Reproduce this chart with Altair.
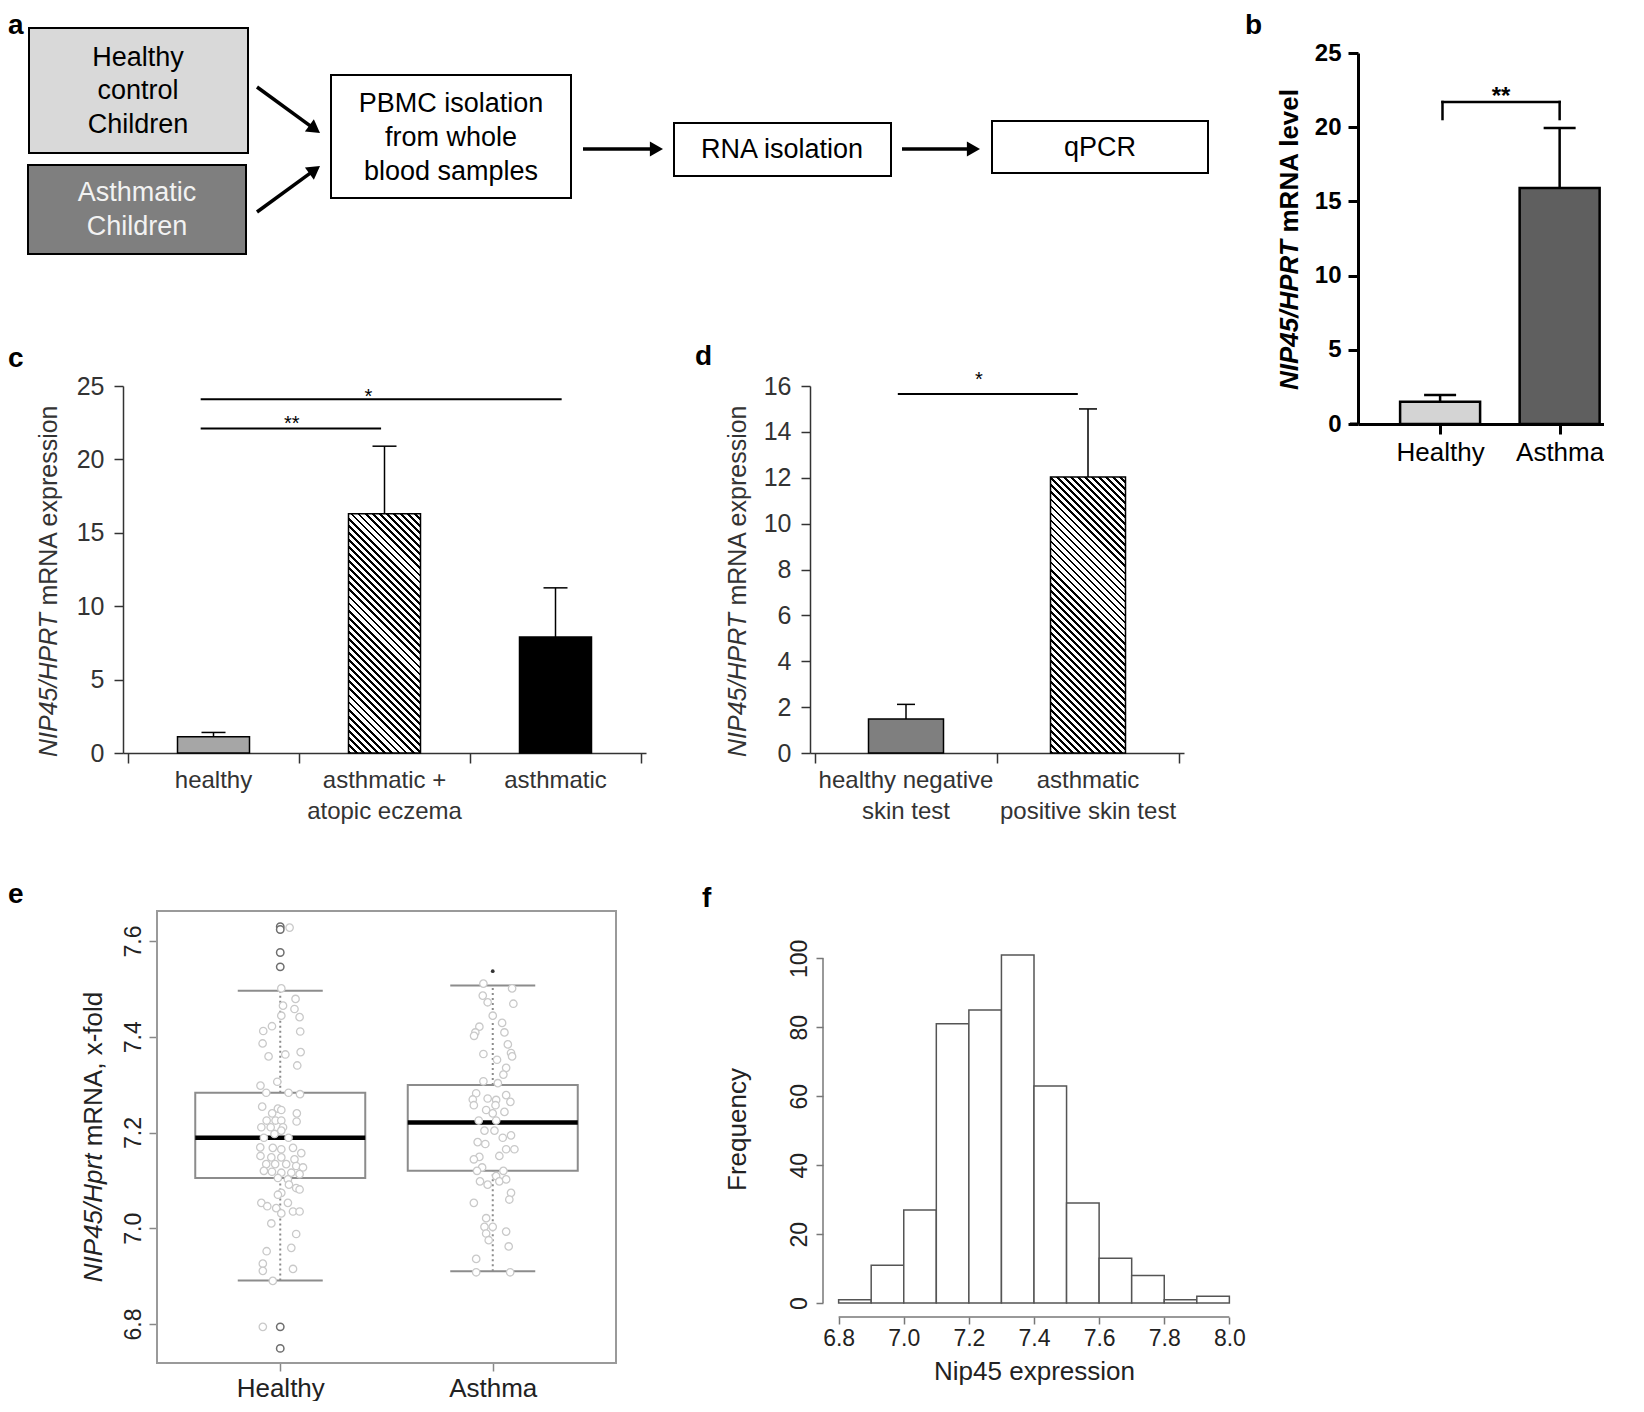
import math
import altair as alt
import pandas as pd

FONT = "Liberation Sans"

# ===================== DATA =====================
# (a) flow diagram, positions in figure units
a_box_x0 = [29, 28, 331, 674, 992]
a_box_x1 = [248, 246, 571, 891, 1208]
a_box_y0 = [28, 165, 75, 123, 121]
a_box_y1 = [153, 254, 198, 176, 173]
a_box_fill = ["#d9d9d9", "#7f7f7f", "#ffffff", "#ffffff", "#ffffff"]
a_lines = ["Healthy", "control", "Children", "Asthmatic", "Children",
           "PBMC isolation", "from whole", "blood samples", "RNA isolation", "qPCR"]
a_line_x = [138, 138, 138, 137, 137, 451, 451, 451, 782, 1100]
a_line_y = [58, 91, 125, 193, 227, 104, 138, 172, 150, 148]
a_line_color = ["#000000"] * 3 + ["#f2f2f2"] * 2 + ["#000000"] * 5
a_arrow_x0 = [257, 257, 583, 902]
a_arrow_y0 = [87, 212, 149, 149]
a_arrow_x1 = [320, 320, 663, 980]
a_arrow_y1 = [133, 166, 149, 149]

# (b)
b_groups = ["Healthy", "Asthma"]
b_mean = [1.5, 15.9]
b_upper = [1.95, 19.95]
b_fill = ["#d4d4d4", "#5f5f5f"]
b_sig_x = [1.02, 2.0]
b_sig_y = 21.7
b_sig_leg = 20.55
b_sig_text = "**"

# (c)
c_groups = ["healthy", "asthmatic +\natopic eczema", "asthmatic"]
c_mean = [1.1, 16.3, 7.9]
c_upper = [1.4, 20.9, 11.25]
c_fill = ["#a6a6a6", "hatch", "#000000"]
c_sig_x0 = [0.925, 0.925]
c_sig_x1 = [3.036, 1.98]
c_sig_y = [24.1, 22.1]
c_sig_tx = [1.906, 1.458]
c_sig_text = ["*", "**"]

# (d)
d_groups = ["healthy negative\nskin test", "asthmatic\npositive skin test"]
d_mean = [1.48, 12.03]
d_upper = [2.12, 15.0]
d_fill = ["#7f7f7f", "hatch"]
d_sig_x0 = [0.955]
d_sig_x1 = [1.944]
d_sig_y = [15.65]
d_sig_tx = [1.40]
d_sig_text = ["*"]

# (e) boxplot statistics and jittered observations
e_groups = ["Healthy", "Asthma"]
e_low_whisker = [6.891, 6.910]
e_q1 = [7.105, 7.120]
e_median = [7.189, 7.221]
e_q3 = [7.283, 7.299]
e_up_whisker = [7.496, 7.507]
e_out_group = [1, 1, 1, 1, 1, 1]
e_out_value = [7.630, 7.624, 7.576, 7.546, 6.794, 6.749]
e_out2_group = [2]
e_out2_value = [7.537]
e_h_jit = [0.005, 0.072, 0.013, 0.067, 0.005, 0.091, -0.039, -0.080, 0.094, -0.083,
           -0.055, 0.024, 0.096, 0.080, -0.014, -0.093, -0.066, 0.039, 0.093, -0.085,
           -0.011, 0.005, -0.038, 0.078, -0.064, -0.022, 0.005, 0.077, -0.089, -0.045,
           0.013, -0.027, -0.077, 0.039, 0.005, -0.094, -0.035, 0.060, 0.005, 0.099,
           -0.093, -0.042, 0.005, 0.067, -0.066, -0.024, 0.028, 0.075, 0.107, -0.077,
           -0.039, 0.005, 0.052, 0.091, -0.011, 0.036, 0.041, 0.075, 0.005, -0.011,
           0.091, -0.089, -0.061, 0.036, -0.019, 0.005, 0.060, 0.091, -0.042, 0.075,
           0.052, -0.064, -0.082, -0.082, 0.060, -0.035, 0.044, -0.082]
e_h_val = [7.501, 7.479, 7.465, 7.458, 7.444, 7.441, 7.422, 7.412, 7.411, 7.386,
           7.359, 7.363, 7.368, 7.340, 7.306, 7.298, 7.283, 7.283, 7.280, 7.254,
           7.250, 7.247, 7.240, 7.240, 7.225, 7.225, 7.225, 7.223, 7.211, 7.211,
           7.211, 7.197, 7.189, 7.189, 7.204, 7.169, 7.168, 7.168, 7.165, 7.157,
           7.151, 7.148, 7.148, 7.144, 7.134, 7.134, 7.134, 7.130, 7.127, 7.120,
           7.118, 7.116, 7.116, 7.113, 7.105, 7.102, 7.091, 7.084, 7.074, 7.070,
           7.081, 7.053, 7.046, 7.053, 7.042, 7.031, 7.035, 7.035, 7.010, 6.988,
           6.959, 6.952, 6.926, 6.911, 6.915, 6.890, 7.628, 6.794]
e_a_jit = [-0.044, 0.091, -0.047, -0.024, 0.097, 0.000, 0.044, -0.063, -0.082, 0.055,
           -0.088, 0.071, 0.086, -0.044, 0.020, 0.091, 0.063, 0.050, -0.044, 0.024,
           -0.078, 0.063, -0.094, -0.024, 0.016, 0.083, -0.089, 0.013, -0.031, 0.000,
           0.055, -0.066, 0.016, -0.039, 0.008, 0.086, 0.047, -0.071, -0.035, 0.063,
           0.102, 0.031, -0.063, -0.089, -0.050, -0.074, 0.050, 0.016, -0.060, -0.024,
           0.031, 0.063, 0.086, 0.078, -0.089, -0.031, -0.039, 0.000, -0.031, 0.063,
           -0.019, 0.075, -0.078, -0.078, 0.082]
e_a_val = [7.511, 7.501, 7.486, 7.472, 7.469, 7.444, 7.429, 7.421, 7.409, 7.409,
           7.402, 7.384, 7.366, 7.364, 7.352, 7.359, 7.335, 7.321, 7.307, 7.303,
           7.282, 7.278, 7.269, 7.271, 7.268, 7.264, 7.257, 7.257, 7.247, 7.240,
           7.243, 7.225, 7.225, 7.204, 7.204, 7.194, 7.189, 7.180, 7.176, 7.165,
           7.165, 7.151, 7.149, 7.144, 7.127, 7.120, 7.120, 7.109, 7.098, 7.091,
           7.098, 7.102, 7.074, 7.060, 7.053, 7.021, 7.003, 7.003, 6.989, 6.993,
           6.975, 6.962, 6.936, 6.908, 6.908]
e_yticks = [6.8, 7.0, 7.2, 7.4, 7.6]
e_ylim = [6.7185, 7.6627]

# (f) histogram
f_bin_start = [6.8, 6.9, 7.0, 7.1, 7.2, 7.3, 7.4, 7.5, 7.6, 7.7, 7.8, 7.9]
f_counts = [1, 11, 27, 81, 85, 101, 63, 29, 13, 8, 1, 2]
f_bin_width = 0.1
f_xticks = [6.8, 7.0, 7.2, 7.4, 7.6, 7.8, 8.0]
f_yticks = [0, 20, 40, 60, 80, 100]

# ===================== HELPERS =====================
ONE = pd.DataFrame({"k": [0]})

REG = {' ': 278, ',': 278, '-': 333, '/': 278, '4': 556, '5': 556, 'A': 667, 'H': 722,
       'I': 278, 'N': 722, 'P': 667, 'R': 722, 'T': 611, 'a': 556, 'd': 556, 'e': 556,
       'f': 278, 'i': 222, 'l': 222, 'm': 833, 'n': 556, 'o': 556, 'p': 556, 'r': 333,
       's': 500, 't': 278, 'v': 500, 'x': 500}
BOLD = dict(REG)
BOLD.update({'A': 722, 'i': 278, 'l': 278, 'm': 889, 'p': 611, 'r': 389, 's': 556,
             't': 333, 'v': 556, 'x': 556, 'd': 611, 'f': 333, 'n': 611, 'o': 611})


def text_w(s, size, bold=False):
    t = BOLD if bold else REG
    return sum(t.get(ch, 556) for ch in s) * size / 1000.0


class Frame:
    """Plot rectangle of a panel, placed absolutely (layout px) inside a 1x1 cell."""

    def __init__(self, idx, left, top, W, H):
        self.dx, self.dy, self.W, self.H = left - idx, top, W, H

    def xr(self):
        return [self.dx, self.dx + self.W]

    def yr(self):
        return [self.dy + self.H, self.dy]

    def px(self, x):
        return alt.value(self.dx + x)

    def py(self, y):
        return alt.value(self.dy + y)

    def xoff(self):
        return self.dy + self.H - 1

    def yoff(self):
        return -self.dx


def rot_title(fr, parts, x, y_bottom, size, bold=False, color="#222222"):
    layers = []
    off = 0.0
    for i, (txt, italic) in enumerate(parts):
        if i > 0:
            off += text_w(" ", size, bold)
        layers.append(
            alt.Chart(ONE).mark_text(
                text=txt, angle=270, align="left", baseline="middle", fontSize=size,
                fontStyle="italic" if italic else "normal",
                fontWeight="bold" if bold else "normal", color=color,
            ).encode(x=fr.px(x), y=fr.py(y_bottom - off))
        )
        off += text_w(txt, size, bold)
    return layers


def letter(fr, ch, x, y):
    return alt.Chart(ONE).mark_text(
        text=ch, fontSize=28, fontWeight="bold", align="left",
        baseline="alphabetic", color="#000000",
    ).encode(x=fr.px(x), y=fr.py(y))


def hatch(W, H, period=5.0, ink=0.4):
    # diagonal stripes through a linear gradient in bounding-box units
    k = (W + H) / (W * W + H * H)
    n = max(1, round((W + H) / math.sqrt(2) / period))
    stops = []
    for i in range(n):
        a, b, c = i / n, (i + ink) / n, (i + 1) / n
        stops += [alt.GradientStop(offset=a, color="#000000"),
                  alt.GradientStop(offset=b, color="#000000"),
                  alt.GradientStop(offset=b, color="#ffffff"),
                  alt.GradientStop(offset=c, color="#ffffff")]
    return alt.LinearGradient(gradient="linear", stops=stops,
                              x1=0, y1=1, x2=W * k, y2=1 - H * k)


def cat_expr(names):
    return "[" + ",".join("'" + n + "'" for n in names) + "][datum.value - 1]"


# layout (page px minus the 8px margin): cell index, plot left, top, width, height
FA = Frame(0, 0, 0, 1210, 282)
FB = Frame(1, 1350, 45, 278, 371)
FC = Frame(2, 115, 378, 523, 367)
FD = Frame(3, 802, 378, 374, 367)
FE = Frame(4, 149, 903, 459, 452)
FF = Frame(5, 815, 933, 422, 376)

# ===================== PANEL a =====================
ax_s = alt.Scale(domain=[8, 8 + FA.W], range=[FA.dx, FA.dx + FA.W], nice=False, zero=False)
ay_s = alt.Scale(domain=[8, 8 + FA.H], range=[FA.dy, FA.dy + FA.H], nice=False, zero=False)


def AX(f):
    return alt.X(f, type="quantitative", scale=ax_s, axis=None)


def AY(f):
    return alt.Y(f, type="quantitative", scale=ay_s, axis=None)


box_df = pd.DataFrame({"x0": a_box_x0, "x1": a_box_x1, "y0": a_box_y0,
                       "y1": a_box_y1, "fill": a_box_fill})
a_rect = alt.Chart(box_df).mark_rect(stroke="#000000", strokeWidth=2).encode(
    x=AX("x0"), x2="x1", y=AY("y0"), y2="y1", fill=alt.Fill("fill:N", scale=None))
txt_df = pd.DataFrame({"t": a_lines, "x": a_line_x, "y": a_line_y, "c": a_line_color})
a_txt = alt.Chart(txt_df).mark_text(fontSize=27, align="center", baseline="middle").encode(
    x=AX("x"), y=AY("y"), text="t:N", color=alt.Color("c:N", scale=None))
HEAD_SIZE = 230
head_h = math.sqrt(HEAD_SIZE) / 2 * math.sqrt(3) / 2
rows = []
for x0, y0, x1, y1 in zip(a_arrow_x0, a_arrow_y0, a_arrow_x1, a_arrow_y1):
    dx, dy = x1 - x0, y1 - y0
    L = math.hypot(dx, dy)
    rows.append({"x0": x0, "y0": y0, "hx": x1 - dx / L * head_h, "hy": y1 - dy / L * head_h,
                 "ang": math.degrees(math.atan2(dx, -dy)) % 360})
arr_df = pd.DataFrame(rows)
a_shaft = alt.Chart(arr_df).mark_rule(color="#000000", strokeWidth=3.5).encode(
    x=AX("x0"), y=AY("y0"), x2="hx", y2="hy")
a_head = alt.Chart(arr_df).mark_point(shape="triangle-up", filled=True, size=HEAD_SIZE,
                                      color="#000000", opacity=1).encode(
    x=AX("hx"), y=AY("hy"), angle=alt.Angle("ang:Q", scale=None))
a_chart = alt.layer(a_rect, a_txt, a_shaft, a_head, letter(FA, "a", 0, 26)).properties(
    width=1, height=1)

# ===================== PANEL b =====================
bxs = alt.Scale(domain=[0.355, 2.597], range=FB.xr(), nice=False, zero=False)
bys = alt.Scale(domain=[0, 25], range=FB.yr(), nice=False)
b_xaxis = alt.Axis(values=[1, 2], labelExpr=cat_expr(b_groups), title=None, tickSize=10,
                   tickWidth=3, tickColor="#000000", domainWidth=3, domainColor="#000000",
                   labelFontSize=26, labelColor="#000000", labelPadding=5, grid=False,
                   labelFlush=False, labelOverlap=False, offset=FB.xoff())
b_yaxis = alt.Axis(values=[0, 5, 10, 15, 20, 25], title=None, tickSize=10, tickWidth=3,
                   tickColor="#000000", domainWidth=3, domainColor="#000000",
                   labelFontSize=24, labelFontWeight="bold", labelColor="#000000",
                   labelPadding=7, grid=False, offset=FB.yoff())


def BX(f):
    return alt.X(f, type="quantitative", scale=bxs, axis=b_xaxis)


def BY(f):
    return alt.Y(f, type="quantitative", scale=bys, axis=b_yaxis, stack=None)


b_df = pd.DataFrame({"pos": [1, 2], "mean": b_mean, "upper": b_upper, "fill": b_fill})
b_bars = alt.Chart(b_df).mark_bar(orient="vertical", size=80, stroke="#000000",
                                  strokeWidth=2.5).encode(
    x=BX("pos"), y=BY("mean"), fill=alt.Fill("fill:N", scale=None))
b_err = alt.Chart(b_df).mark_rule(color="#000000", strokeWidth=2.5).encode(
    x=BX("pos"), y=BY("mean"), y2="upper")
b_cap = alt.Chart(b_df).mark_tick(orient="horizontal", size=32, thickness=2.5,
                                  color="#000000", opacity=1).encode(x=BX("pos"), y=BY("upper"))
b_br_df = pd.DataFrame({"x": b_sig_x, "lo": [b_sig_leg] * 2, "hi": [b_sig_y] * 2})
b_br_h = alt.Chart(pd.DataFrame({"x0": [b_sig_x[0]], "x1": [b_sig_x[1]], "y": [b_sig_y],
                                 "xm": [sum(b_sig_x) / 2], "t": [b_sig_text]}))
b_line = b_br_h.mark_rule(color="#000000", strokeWidth=2.5, strokeCap="square").encode(
    x=BX("x0"), x2="x1", y=BY("y"))
b_legs = alt.Chart(b_br_df).mark_rule(color="#000000", strokeWidth=2.5,
                                      strokeCap="square").encode(
    x=BX("x"), y=BY("lo"), y2="hi")
b_star = b_br_h.mark_text(fontSize=24, fontWeight="bold", baseline="alphabetic", dy=2,
                          color="#000000").encode(x=BX("xm"), y=BY("y"), text="t:N")
b_axis_ext = alt.Chart(ONE).mark_rule(color="#000000", strokeWidth=3).encode(
    x=FB.px(-8), x2=FB.px(0), y=FB.py(FB.H))
b_title = rot_title(FB, [("NIP45/HPRT", True), ("mRNA level", False)], -68, 337, 26,
                    bold=True, color="#000000")
b_chart = alt.layer(b_bars, b_err, b_cap, b_line, b_legs, b_star, b_axis_ext, *b_title,
                    letter(FB, "b", -113, -19)).properties(width=1, height=1)


# ===================== PANELS c / d =====================
def bar_panel(fr, groups, mean, upper, fills, ymax, yticks, sig_x0, sig_x1, sig_y,
              sig_tx, sig_text, sig_dy, bar_size, cap_size, let, let_xy):
    n = len(groups)
    xs = alt.Scale(domain=[0.5, n + 0.5], range=fr.xr(), nice=False, zero=False)
    ys = alt.Scale(domain=[0, ymax], range=fr.yr(), nice=False)
    xaxis = alt.Axis(values=[i + 0.5 for i in range(n + 1)], labels=False, tickSize=10,
                     tickWidth=1.5, tickColor="#333333", domainColor="#333333",
                     domainWidth=1.5, title=None, grid=False, offset=fr.xoff())
    yaxis = alt.Axis(values=yticks, title=None, tickSize=9, tickWidth=1.5,
                     tickColor="#333333", domainColor="#333333", domainWidth=1.5,
                     labelFontSize=25, labelColor="#333333", labelPadding=10, grid=False,
                     offset=fr.yoff())

    def X(f):
        return alt.X(f, type="quantitative", scale=xs, axis=xaxis)

    def Y(f):
        return alt.Y(f, type="quantitative", scale=ys, axis=yaxis, stack=None)

    df = pd.DataFrame({"pos": list(range(1, n + 1)), "mean": mean, "upper": upper,
                       "fill": fills, "label": groups})
    solid = df[df["fill"] != "hatch"]
    hatched = df[df["fill"] == "hatch"]
    layers = [alt.Chart(solid).mark_bar(orient="vertical", size=bar_size, stroke="#000000",
                                        strokeWidth=1.5).encode(
        x=X("pos"), y=Y("mean"), fill=alt.Fill("fill:N", scale=None))]
    for _, r in hatched.iterrows():
        hpx = r["mean"] / ymax * fr.H
        layers.append(alt.Chart(hatched[hatched["pos"] == r["pos"]]).mark_bar(
            orient="vertical", size=bar_size, stroke="#000000", strokeWidth=1.5,
            fill=hatch(bar_size, hpx)).encode(x=X("pos"), y=Y("mean")))
    layers.append(alt.Chart(df).mark_rule(color="#000000", strokeWidth=1.5).encode(
        x=X("pos"), y=Y("mean"), y2="upper"))
    layers.append(alt.Chart(df).mark_tick(orient="horizontal", size=cap_size, thickness=1.5,
                                          color="#000000", opacity=1).encode(
        x=X("pos"), y=Y("upper")))
    sig = pd.DataFrame({"x0": sig_x0, "x1": sig_x1, "y": sig_y, "tx": sig_tx, "t": sig_text,
                        "dy": sig_dy})
    layers.append(alt.Chart(sig).mark_rule(color="#000000", strokeWidth=2).encode(
        x=X("x0"), x2="x1", y=Y("y")))
    for _, r in sig.iterrows():
        layers.append(alt.Chart(sig[sig["tx"] == r["tx"]]).mark_text(
            fontSize=20, baseline="alphabetic", dy=float(r["dy"]), color="#000000").encode(
            x=X("tx"), y=Y("y"), text="t:N"))
    layers.append(alt.Chart(df).mark_text(fontSize=24, baseline="top", align="center",
                                          lineBreak="\n", lineHeight=31,
                                          color="#333333").encode(
        x=X("pos"), y=fr.py(fr.H + 16), text="label:N"))
    layers += rot_title(fr, [("NIP45/HPRT", True), ("mRNA expression", False)], let_xy[2],
                        371, 25, color="#333333")
    layers.append(letter(fr, let, let_xy[0], let_xy[1]))
    return alt.layer(*layers).properties(width=1, height=1)


c_chart = bar_panel(FC, c_groups, c_mean, c_upper, c_fill, 25, [0, 5, 10, 15, 20, 25],
                    c_sig_x0, c_sig_x1, c_sig_y, c_sig_tx, c_sig_text, [4, 1], 72, 24,
                    "c", (-115, -19, -74))
d_chart = bar_panel(FD, d_groups, d_mean, d_upper, d_fill, 16,
                    [0, 2, 4, 6, 8, 10, 12, 14, 16],
                    d_sig_x0, d_sig_x1, d_sig_y, d_sig_tx, d_sig_text, [-8], 75, 18,
                    "d", (-115, -21, -72))

# ===================== PANEL e =====================
exs = alt.Scale(domain=[0.42, 2.58], range=FE.xr(), nice=False, zero=False)
eys = alt.Scale(domain=e_ylim, range=FE.yr(), nice=False, zero=False)
e_xaxis = alt.Axis(values=[1, 2], labelExpr=cat_expr(e_groups), title=None, tickSize=8,
                   tickColor="#888888", tickWidth=1.5, domain=False, labelFontSize=26,
                   labelColor="#222222", labelPadding=4, grid=False, labelFlush=False,
                   offset=FE.xoff())
e_yaxis = alt.Axis(values=e_yticks, format=".1f", title=None, tickSize=8, tickColor="#888888",
                   tickWidth=1.5, domain=False, labelFontSize=23, labelColor="#222222",
                   labelAngle=270, labelAlign="center", labelBaseline="bottom",
                   labelPadding=4, grid=False, offset=FE.yoff())


def EX(f):
    return alt.X(f, type="quantitative", scale=exs, axis=e_xaxis)


def EY(f):
    return alt.Y(f, type="quantitative", scale=eys, axis=e_yaxis)


BOXWEX = 0.8
e_df = pd.DataFrame({"pos": [1, 2], "lw": e_low_whisker, "q1": e_q1, "med": e_median,
                     "q3": e_q3, "uw": e_up_whisker})
e_df["x0"] = e_df["pos"] - BOXWEX / 2
e_df["x1"] = e_df["pos"] + BOXWEX / 2
e_df["c0"] = e_df["pos"] - BOXWEX / 4
e_df["c1"] = e_df["pos"] + BOXWEX / 4
GREY = "#8c8c8c"
e_wu = alt.Chart(e_df).mark_rule(color=GREY, strokeWidth=2, strokeDash=[2, 3]).encode(
    x=EX("pos"), y=EY("q3"), y2="uw")
e_wl = alt.Chart(e_df).mark_rule(color=GREY, strokeWidth=2, strokeDash=[2, 3]).encode(
    x=EX("pos"), y=EY("lw"), y2="q1")
e_cu = alt.Chart(e_df).mark_rule(color=GREY, strokeWidth=2).encode(
    x=EX("c0"), x2="c1", y=EY("uw"))
e_cl = alt.Chart(e_df).mark_rule(color=GREY, strokeWidth=2).encode(
    x=EX("c0"), x2="c1", y=EY("lw"))
e_box = alt.Chart(e_df).mark_rect(fill="#ffffff", stroke=GREY, strokeWidth=2).encode(
    x=EX("x0"), x2="x1", y=EY("q1"), y2="q3")
e_med = alt.Chart(e_df).mark_rule(color="#000000", strokeWidth=4.5).encode(
    x=EX("x0"), x2="x1", y=EY("med"))
pts = pd.DataFrame({"x": [1 + j for j in e_h_jit] + [2 + j for j in e_a_jit],
                    "v": e_h_val + e_a_val})
e_pts = alt.Chart(pts).mark_circle(fill="#ffffff", stroke="#c9c9c9", strokeWidth=1.3,
                                   size=55, opacity=1).encode(x=EX("x"), y=EY("v"))
outs = pd.DataFrame({"g": e_out_group, "v": e_out_value})
e_out = alt.Chart(outs).mark_circle(fill="#ffffff", stroke="#6e6e6e", strokeWidth=1.5,
                                    size=55, opacity=1).encode(x=EX("g"), y=EY("v"))
outs2 = pd.DataFrame({"g": e_out2_group, "v": e_out2_value})
e_out2 = alt.Chart(outs2).mark_circle(color="#333333", size=14, opacity=1).encode(
    x=EX("g"), y=EY("v"))
e_frame = alt.Chart(ONE).mark_rect(fill="#ffffff", fillOpacity=0, stroke="#9a9a9a",
                                   strokeWidth=2).encode(
    x=FE.px(0), x2=FE.px(FE.W), y=FE.py(0), y2=FE.py(FE.H))
e_parts = [("NIP45/Hprt", True), ("mRNA, x-fold", False)]
e_total = text_w("NIP45/Hprt", 26) + text_w(" ", 26) + text_w("mRNA, x-fold", 26)
e_title = rot_title(FE, e_parts, -63, FE.H / 2 + e_total / 2, 26, color="#222222")
e_chart = alt.layer(e_wu, e_wl, e_cu, e_cl, e_box, e_med, e_pts, e_out, e_out2, e_frame,
                    *e_title, letter(FE, "e", -149, -8)).properties(width=1, height=1)

# ===================== PANEL f =====================
fx_ext = 0.04 * (f_xticks[-1] - f_xticks[0])
fy_ext = 0.04 * max(f_counts)
f_xlim = [f_xticks[0] - fx_ext, f_xticks[-1] + fx_ext]
f_ylim = [-fy_ext, max(f_counts) + fy_ext]
fxs = alt.Scale(domain=f_xlim, range=FF.xr(), nice=False, zero=False)
fys = alt.Scale(domain=f_ylim, range=FF.yr(), nice=False, zero=False)
f_xaxis = alt.Axis(values=f_xticks, format=".1f", title="Nip45 expression", tickSize=7,
                   tickColor="#777777", tickWidth=1.5, domain=False, labelFontSize=23,
                   labelColor="#222222", labelPadding=3, titleFontSize=26,
                   titleFontWeight="normal", titleColor="#222222", titlePadding=8,
                   grid=False, labelFlush=False, labelOverlap=False, offset=FF.xoff())
f_yaxis = alt.Axis(values=f_yticks, title="Frequency", tickSize=7, tickColor="#777777",
                   tickWidth=1.5, domain=False, labelFontSize=23, labelColor="#222222",
                   labelAngle=270, labelAlign="center", labelBaseline="bottom",
                   labelPadding=5, titleFontSize=26, titleFontWeight="normal",
                   titleColor="#222222", titlePadding=38, grid=False, offset=FF.yoff())


def FX(f):
    return alt.X(f, type="quantitative", scale=fxs, axis=f_xaxis)


def FY(f):
    return alt.Y(f, type="quantitative", scale=fys, axis=f_yaxis)


f_df = pd.DataFrame({"x0": f_bin_start, "x1": [s + f_bin_width for s in f_bin_start],
                     "n": f_counts, "zero": [0] * len(f_counts)})
f_bars = alt.Chart(f_df).mark_rect(fill="#ffffff", stroke="#555555", strokeWidth=1.5).encode(
    x=FX("x0"), x2="x1", y=FY("n"), y2="zero")
f_axl = pd.DataFrame({"x0": [f_xticks[0]], "x1": [f_xticks[-1]], "yb": [f_ylim[0]],
                      "xl": [f_xlim[0]], "y0": [f_yticks[0]], "y1": [f_yticks[-1]]})
f_xline = alt.Chart(f_axl).mark_rule(color="#777777", strokeWidth=1.5).encode(
    x=FX("x0"), x2="x1", y=FY("yb"))
f_yline = alt.Chart(f_axl).mark_rule(color="#777777", strokeWidth=1.5).encode(
    x=FX("xl"), y=FY("y0"), y2="y1")
f_chart = alt.layer(f_bars, f_xline, f_yline, letter(FF, "f", -121, -34)).properties(
    width=1, height=1)

# ===================== LAYOUT =====================
chart = alt.hconcat(a_chart, b_chart, c_chart, d_chart, e_chart, f_chart, spacing=0,
                    bounds="flush").properties(
    padding=0, background="white"
).configure(font=FONT).configure_view(stroke=None).configure_axis(
    grid=False, labelFont=FONT, titleFont=FONT)

chart.save("out.html", embed_options={"renderer": "svg", "actions": False})
